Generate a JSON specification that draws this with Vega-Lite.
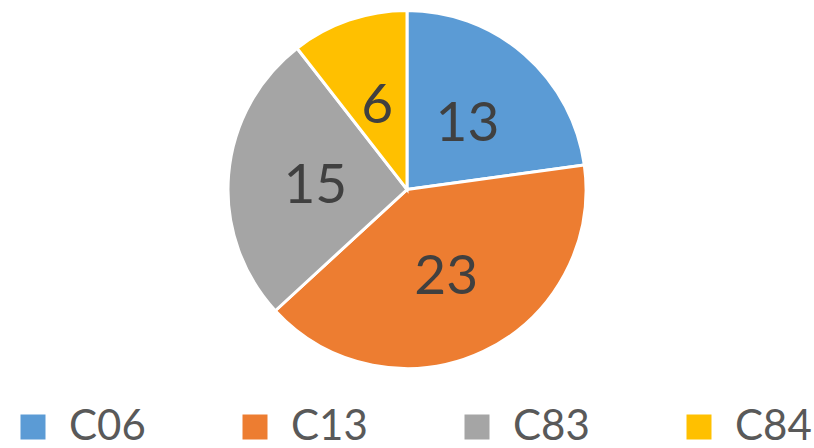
{
  "$schema": "https://vega.github.io/schema/vega-lite/v6.json",
  "width": 814,
  "height": 448,
  "autosize": {"type": "fit", "contains": "padding"},
  "padding": {"left": 12, "right": 12, "top": 0, "bottom": 0},
  "background": "white",
  "config": {"view": {"stroke": null}, "font": "Lato"},
  "data": {"values": [
    {"cat": "C06", "value": 13, "ord": 1},
    {"cat": "C13", "value": 23, "ord": 2},
    {"cat": "C83", "value": 15, "ord": 3},
    {"cat": "C84", "value": 6, "ord": 4}
  ]},
  "encoding": {
    "theta": {"field": "value", "type": "quantitative", "stack": true},
    "order": {"field": "ord", "type": "quantitative"}
  },
  "layer": [
    {"mark": {"type": "arc", "outerRadius": 179, "stroke": "white", "strokeWidth": 3},
     "encoding": {
      "color": {
        "field": "cat", "type": "nominal",
        "scale": {"domain": ["C06", "C13", "C83", "C84"], "range": ["#5B9BD5", "#ED7D31", "#A5A5A5", "#FFC000"]},
        "legend": {
          "orient": "bottom", "direction": "horizontal", "title": null,
          "symbolType": "square", "symbolSize": 625, "symbolStrokeWidth": 0, "symbolOpacity": 1,
          "labelFontSize": 42, "labelColor": "#595959", "labelFont": "Lato",
          "labelOffset": 15, "columnPadding": 88, "labelLimit": 300, "offset": 27
        }
      }
     }},
    {"mark": {"type": "text", "radius": 92, "fontSize": 55, "color": "#404040", "font": "Lato", "dy": 4},
     "encoding": {"text": {"field": "value", "type": "quantitative"}}}
  ]
}
